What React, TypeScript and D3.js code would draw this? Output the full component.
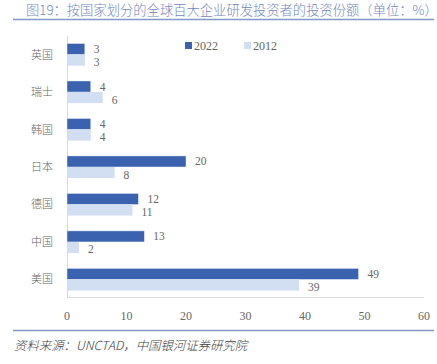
import React from "react";
import * as d3 from "d3";

const title = "图19：按国家划分的全球百大企业研发投资者的投资份额（单位：%）";
const source = "资料来源：UNCTAD，中国银河证券研究院";
const categories = ["英国", "瑞士", "韩国", "日本", "德国", "中国", "美国"];
const values2022 = [3, 4, 4, 20, 12, 13, 49];
const values2012 = [3, 6, 4, 8, 11, 2, 39];
const seriesNames = ["2022", "2012"];
const xTicks = [0, 10, 20, 30, 40, 50, 60];

const W = 437;
const H = 364;
const C2022 = "#3a62ae";
const C2012 = "#d2def1";
const TXT = "#666666";
const LINE = "#8497c9";
const FONT = "'Noto Sans CJK SC', 'Liberation Sans', sans-serif";
const NUM = "'Liberation Serif', serif";

export default function App() {
  const x = d3.scaleLinear().domain([0, 60]).range([67, 424]);
  const y = d3.scaleBand<string>().domain(categories).range([36, 298]).paddingInner(0.41).paddingOuter(0.2);
  const bh = y.bandwidth() / 2;
  return (
    <svg width={W} height={H} style={{ position: "absolute", left: 0, top: 0 }} fontFamily={FONT}>
      <rect width={W} height={H} fill="#fff" />
      <text x={26} y={15} fontSize={13.3} fill="#7487bf" fontWeight={300}>{title}</text>
      <line x1={13} x2={434} y1={19.5} y2={19.5} stroke={LINE} strokeWidth={1.5} />
      {/* legend */}
      <rect x={185} y={42} width={7} height={7} fill={C2022} />
      <text x={194} y={50} fontSize={12} fill={TXT} fontFamily={NUM}>{seriesNames[0]}</text>
      <rect x={244} y={42} width={7} height={7} fill={C2012} />
      <text x={253} y={50} fontSize={12} fill={TXT} fontFamily={NUM}>{seriesNames[1]}</text>
      {/* axes */}
      <line x1={67.5} x2={67.5} y1={36} y2={297} stroke="#d9d9d9" />
      <line x1={67} x2={424} y1={297.5} y2={297.5} stroke="#d9d9d9" />
      {xTicks.map((t) => (
        <text key={t} x={x(t)} y={320} fontSize={12} fill={TXT} textAnchor="middle" fontFamily={NUM}>{t}</text>
      ))}
      {categories.map((c, i) => {
        const y0 = y(c)!;
        const cy = y0 + y.bandwidth() / 2;
        return (
          <g key={c}>
            <text x={53} y={cy + 4} fontSize={11} fill={TXT} textAnchor="end" fontWeight={300}>{c}</text>
            <rect x={x(0)} y={y0} width={x(values2022[i]) - x(0)} height={bh} fill={C2022} stroke="#e8eef8" strokeWidth={0.5} />
            <rect x={x(0)} y={y0 + bh} width={x(values2012[i]) - x(0)} height={bh} fill={C2012} />
            <text x={x(values2022[i]) + 9} y={y0 + bh / 2 + 4} fontSize={11.5} fill={TXT} fontFamily={NUM}>{values2022[i]}</text>
            <text x={x(values2012[i]) + 9} y={y0 + bh * 1.5 + 6} fontSize={11.5} fill={TXT} fontFamily={NUM}>{values2012[i]}</text>
          </g>
        );
      })}
      <line x1={13} x2={434} y1={330.5} y2={330.5} stroke={LINE} strokeWidth={1.5} />
      <text x={14} y={350} fontSize={12.4} fill="#404040" fontStyle="italic" fontWeight={300}>{source}</text>
    </svg>
  );
}
